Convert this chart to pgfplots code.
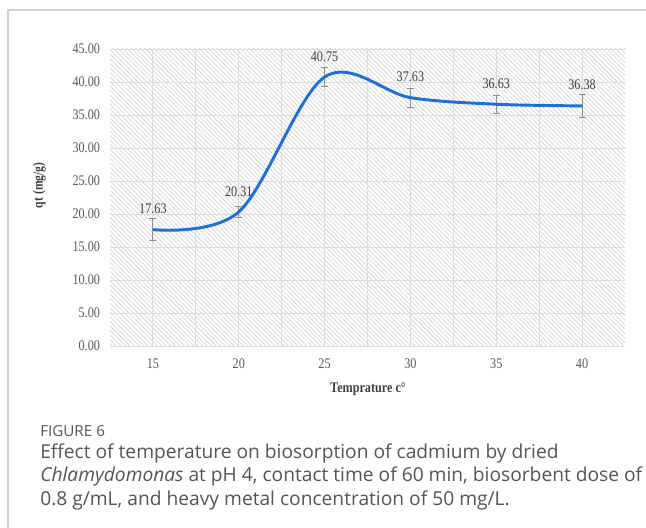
\documentclass[border=0pt]{standalone}
\usepackage{pgfplots}
\pgfplotsset{compat=1.18}
\usepackage{pgfplotstable}
\usepackage{fontspec}
\usetikzlibrary{patterns.meta}
\setmainfont{Liberation Serif}
\newfontfamily\chartfont[FakeStretch=0.83]{Liberation Serif}
\newfontfamily\capfont{Open Sans}
\definecolor{lineblue}{HTML}{1F6FDB}
\definecolor{tickgray}{HTML}{595959}
\definecolor{labelgray}{HTML}{404040}
\definecolor{gridgray}{HTML}{DCDCDC}
\definecolor{hatchgray}{HTML}{D8D8D8}
\definecolor{framegray}{HTML}{D0D0D0}
\definecolor{errgray}{HTML}{8C8C8C}
\definecolor{captext}{HTML}{555555}

% temperature (C), adsorbed amount qt (mg/g), error (+/-)
\pgfplotstableread{
T   qt     err
15  17.63  1.70
20  20.31  0.90
25  40.75  1.40
30  37.63  1.45
35  36.63  1.35
40  36.38  1.80
}\qtdata

\begin{document}
\begin{tikzpicture}
\useasboundingbox (0,0) rectangle (484.5pt,396pt);
\fill[white] (0,0) rectangle (484.5pt,396pt);
% outer panel frame
\draw[framegray, line width=0.9pt] (6pt,0) -- (6pt,388.5pt) -- (484.5pt,388.5pt);

\begin{axis}[
  at={(82.5pt,136.5pt)}, anchor=south west,
  width=386.25pt, height=222.75pt, scale only axis,
  xmin=12.5, xmax=42.5, ymin=0, ymax=45,
  xtick={15,20,...,40}, ytick={0,5,...,45},
  minor xtick={17.5,22.5,...,37.5},
  grid=both,
  major grid style={gridgray, line width=0.7pt},
  minor grid style={gridgray, line width=0.7pt},
  axis line style={draw=none},
  major tick length=0pt, minor tick length=0pt,
  axis background/.style={pattern={Lines[angle=-45,distance=2.4pt,line width=0.55pt]}, pattern color=hatchgray},
  ticklabel style={font=\chartfont\fontsize{11}{13}\selectfont, text=tickgray},
  /pgf/number format/assume math mode=true,
  yticklabel style={/pgf/number format/.cd, fixed, fixed zerofill, precision=2, assume math mode=true, /tikz/.cd, xshift=-4pt},
  xticklabel style={yshift=-6pt},
  clip=false,
]
% error bars
\addplot[forget plot, draw=none, mark=none,
  error bars/.cd, y dir=both, y explicit,
  error bar style={draw=errgray, line width=0.7pt},
  error mark options={draw=errgray, rotate=90, mark size=2.6pt, line width=0.7pt}]
  table[x=T, y=qt, y error=err] {\qtdata};
% smoothed curve with value labels
\addplot[lineblue, line width=2.2pt, smooth, tension=0.55, mark=none,
  nodes near coords, point meta=explicit,
  nodes near coords style={/pgf/number format/.cd, fixed, fixed zerofill, precision=2, assume math mode=true, /tikz/.cd},
  every node near coord/.append style={font=\chartfont\fontsize{11}{13}\selectfont, text=labelgray, anchor=center, yshift=15.5pt}]
  table[x=T, y=qt, meta=qt] {\qtdata};
\end{axis}

% axis titles
\node[font=\chartfont\bfseries\fontsize{11}{13}\selectfont, text=labelgray] at (276pt,104pt) {Temprature c°};
\node[font=\chartfont\bfseries\fontsize{10.5}{13}\selectfont, text=labelgray, rotate=90] at (29.5pt,257pt) {qt (mg/g)};

% caption
\node[font=\capfont\fontsize{11.4}{13}\selectfont, text=captext, anchor=base west, inner sep=0pt] at (30pt,68.5pt) {FIGURE 6};
\node[font=\capfont\fontsize{14.4}{17}\selectfont, text=captext, anchor=base west, inner sep=0pt] at (30pt,52pt) {Effect of temperature on biosorption of cadmium by dried};
\node[font=\capfont\fontsize{14.4}{17}\selectfont, text=captext, anchor=base west, inner sep=0pt] at (30pt,34.5pt) {\textit{Chlamydomonas} at pH 4, contact time of 60 min, biosorbent dose of};
\node[font=\capfont\fontsize{14.4}{17}\selectfont, text=captext, anchor=base west, inner sep=0pt] at (30pt,16.5pt) {0.8 g/mL, and heavy metal concentration of 50 mg/L.};
\end{tikzpicture}
\end{document}
